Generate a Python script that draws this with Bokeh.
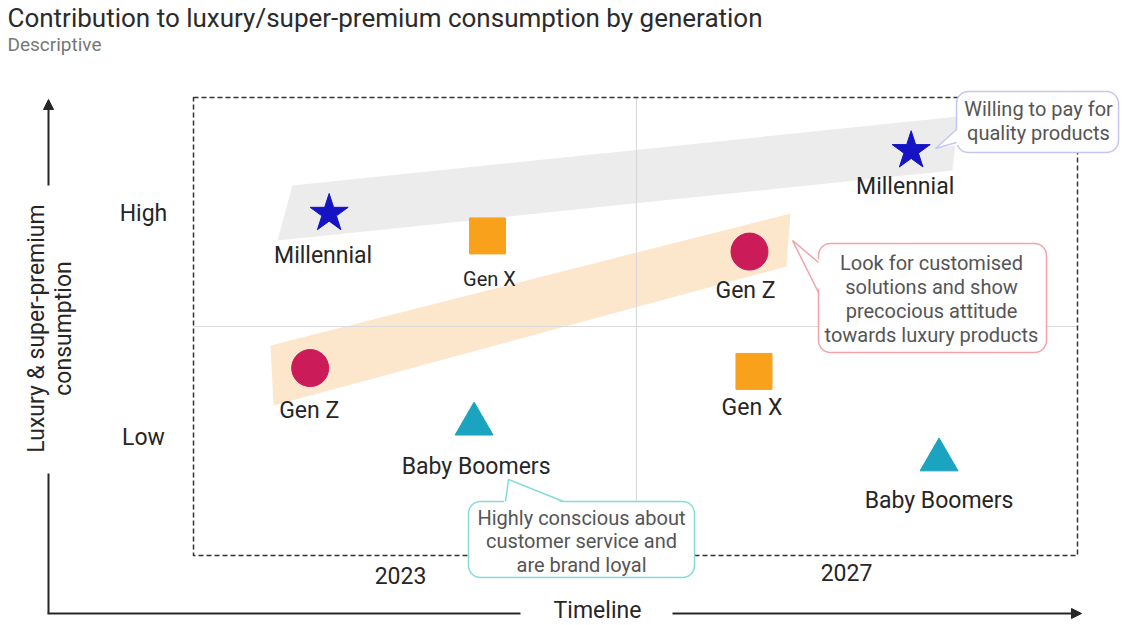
import numpy as np
from bokeh.plotting import figure
from bokeh.models import Range1d, ColumnDataSource, Arrow, NormalHead
from bokeh.core.properties import value
from bokeh.embed import file_html
from bokeh.resources import INLINE

# ---------------- data ----------------
generations = ["Millennial", "Gen X", "Gen Z", "Baby Boomers"]
markers = ["star", "square", "circle", "triangle"]
colors = ["#1414C4", "#F9A11B", "#CB1B58", "#1AA4BF"]
years = [2023, 2027]
year_labels = ["2023", "2027"]
pos_2023 = [2022.36, 2023.78, 2022.19, 2023.66]     # position along timeline
level_2023 = [2.00, 1.90, 1.31, 1.06]               # consumption level (Low=1, High=2)
pos_2027 = [2027.58, 2026.17, 2026.13, 2027.83]
level_2027 = [2.28, 1.295, 1.83, 0.90]
level_ticks = [1, 2]
level_tick_labels = ["Low", "High"]
callout_1 = ["Willing to pay for", "quality products"]
callout_2 = ["Look for customised", "solutions and show", "precocious attitude", "towards luxury products"]
callout_3 = ["Highly conscious about", "customer service and", "are brand loyal"]

# ---------------- layout ----------------
W, H = 1120, 625
PX_PER_YEAR = 111.5
PX_PER_LEVEL = 224.0
X0 = 2023 - 400 / PX_PER_YEAR
X1 = X0 + W / PX_PER_YEAR
YTOP = 2 + 213 / PX_PER_LEVEL
YBOT = YTOP - H / PX_PER_LEVEL


def X(px):
    return X0 + px / PX_PER_YEAR


def Y(py):
    return YTOP - py / PX_PER_LEVEL


FONT = value("Roboto")
DARK = "#262626"

p = figure(width=W, height=H, x_range=Range1d(X0, X1), y_range=Range1d(YBOT, YTOP),
           output_backend="svg", toolbar_location=None, min_border=0,
           x_axis_location=None, y_axis_location=None)
p.grid.visible = False
p.outline_line_color = None
p.background_fill_color = "white"

# title
p.text(x=[X(7)], y=[Y(17)], text=["Contribution to luxury/super-premium consumption by generation"],
       text_font=FONT, text_font_size="26px", text_color="#2b2b2b",
       text_align="left", text_baseline="middle")
p.text(x=[X(7)], y=[Y(44)], text=["Descriptive"], text_font=FONT, text_font_size="19px",
       text_color="#777777", text_align="left", text_baseline="middle")

# bands
p.patch(x=[X(v) for v in (292, 958, 952, 277)], y=[Y(v) for v in (185, 116, 170, 240)],
        fill_color="#ECECEC", line_color=None)
p.patch(x=[X(v) for v in (270, 790, 786, 273)], y=[Y(v) for v in (345, 213, 266, 405)],
        fill_color="#FDE7CC", line_color=None)

# quadrant dividers
p.segment(x0=[X(636)], y0=[Y(97)], x1=[X(636)], y1=[Y(555)], line_color="#DADADA", line_width=1.2)
p.segment(x0=[X(193)], y0=[Y(326)], x1=[X(1077)], y1=[Y(326)], line_color="#DADADA", line_width=1.2)

# dashed frame
p.quad(left=[X(193)], right=[X(1077)], top=[Y(97)], bottom=[Y(555)], fill_color=None,
       line_color="#333333", line_width=1.5, line_dash="5 3")

# axes arrows
p.segment(x0=[X(48)], y0=[Y(613)], x1=[X(48)], y1=[Y(473)], line_color=DARK, line_width=2)
p.add_layout(Arrow(end=NormalHead(size=10, fill_color=DARK, line_color=DARK),
                   x_start=X(48), y_start=Y(185), x_end=X(48), y_end=Y(99),
                   line_color=DARK, line_width=2))
p.segment(x0=[X(47)], y0=[Y(613)], x1=[X(520)], y1=[Y(613)], line_color=DARK, line_width=2)
p.add_layout(Arrow(end=NormalHead(size=10, fill_color=DARK, line_color=DARK),
                   x_start=X(672), y_start=Y(613), x_end=X(1081), y_end=Y(613),
                   line_color=DARK, line_width=2))
p.text(x=[X(597)], y=[Y(610)], text=["Timeline"], text_font=FONT, text_font_size="23px",
       text_color=DARK, text_align="center", text_baseline="middle")
p.text(x=[X(36), X(63)], y=[Y(328), Y(328)], text=["Luxury & super-premium", "consumption"],
       angle=np.pi / 2, text_font=FONT, text_font_size="23px", text_color=DARK,
       text_align="center", text_baseline="middle")

# level ticks and year labels
p.text(x=[X(143)] * 2, y=level_ticks, text=level_tick_labels, text_font=FONT,
       text_font_size="23px", text_color=DARK, text_align="center", text_baseline="middle")
p.text(x=years, y=[Y(575), Y(572)], text=year_labels, text_font=FONT,
       text_font_size="23px", text_color=DARK, text_align="center", text_baseline="middle")

# markers
src = ColumnDataSource(dict(
    x=pos_2023 + pos_2027,
    y=level_2023 + level_2027,
    marker=markers + markers,
    color=colors + colors,
    label=generations + generations,
    size=[40, 36, 37, 38] * 2,
    fsize=["23px", "20px", "23px", "23px", "23px", "23px", "23px", "23px"],
    yoff=[42, 43, 42, 42, 36, 36, 39, 41],
    xoff=[-6, 2, -1, 2, -6, -2, -4, 0],
))
p.scatter(x="x", y="y", marker="marker", size="size", fill_color="color", line_color="color", source=src)
p.text(x="x", y="y", text="label", x_offset="xoff", y_offset="yoff", text_font=FONT,
       text_font_size="fsize", text_color=DARK, text_align="center", text_baseline="middle", source=src)


# callouts
def callout(box, tail, color, lines, cx, y_first, step):
    l, t, r, b = box
    p.quad(left=[X(l)], right=[X(r)], top=[Y(t)], bottom=[Y(b)], fill_color="white",
           line_color=color, line_width=1.5, border_radius=12)
    tip, b1, b2, c1, c2 = tail
    p.patch(x=[X(tip[0]), X(c1[0]), X(c2[0])], y=[Y(tip[1]), Y(c1[1]), Y(c2[1])],
            fill_color="white", line_color=None)
    p.multi_line(xs=[[X(b1[0]), X(tip[0]), X(b2[0])]], ys=[[Y(b1[1]), Y(tip[1]), Y(b2[1])]],
                 line_color=color, line_width=1.5)
    p.text(x=[X(cx)] * len(lines), y=[Y(y_first + i * step) for i in range(len(lines))],
           text=lines, text_font=FONT, text_font_size="20px", text_color="#555555",
           text_align="center", text_baseline="middle")


callout((956, 91, 1118, 152), ((935, 148), (956, 129), (956, 142), (959, 127), (959, 144)),
        "#C6C6F2", callout_1, 1038, 108, 24)
callout((818, 243, 1046, 352), ((792, 240), (818, 262), (818, 292), (821, 261), (821, 294)),
        "#F2A3AC", callout_2, 931, 262, 24)
callout((468, 501, 694, 577), ((508, 479), (505, 501), (563, 501), (503, 504), (566, 504)),
        "#83DCD8", callout_3, 581, 517, 23.5)

open("out.html", "w").write(file_html(p, INLINE))
